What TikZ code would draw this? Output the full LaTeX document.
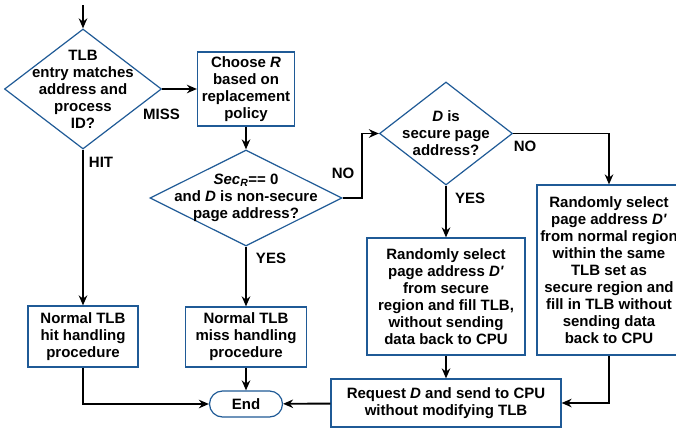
\documentclass[tikz,border=0pt]{standalone}
\usepackage{fontspec}
\setmainfont{Liberation Sans}
\usepackage{tikz}
\usetikzlibrary{
	shapes.geometric,
	arrows.meta
}
\definecolor{edgeblue}{RGB}{31,90,150}

\begin{document}
\begin{tikzpicture}[
    x=1pt, y=1pt,
    every node/.style={font=\fontsize{15}{17}\selectfont\bfseries},
    box/.style={rectangle, draw=edgeblue, line width=1.2pt, fill=white, align=center, inner sep=0pt},
    decision/.style={diamond, draw=edgeblue, line width=1.2pt, inner sep=0pt},
    qtext/.style={align=center, inner sep=0pt},
    tag/.style={inner sep=0pt},
    arrow/.style={line width=1.9pt,-{Stealth[length=10pt,width=8.5pt]}}
]
\useasboundingbox (0,0) rectangle (676,-431);

% Nodes
\coordinate (start) at (83,-5);

\node[decision, minimum width=157pt, minimum height=120pt,
  label={[qtext]center:{TLB\\entry matches\\address and\\process\\ID?}}] (match) at (83,-89) {};

\node[box, minimum width=97pt, minimum height=74pt] (choose) at (246,-89) {Choose \textit{R}\\based on\\replacement\\policy};

\node[decision, minimum width=192pt, minimum height=96pt,
  label={[qtext]center:{\textit{Sec}\textsubscript{\textit{R}}== 0\\and \textit{D} is non-secure\\page address?}}] (secr) at (246,-198) {};

\node[decision, minimum width=133pt, minimum height=103pt,
  label={[qtext]center:{\textit{D} is\\secure page\\address?}}] (secure) at (446,-133.5) {};

\node[box, minimum width=110pt, minimum height=61pt] (hit) at (83,-336.5) {Normal TLB\\hit handling\\procedure};

\node[box, minimum width=121pt, minimum height=60pt] (miss) at (246,-337) {Normal TLB\\miss handling\\procedure};

\node[box, minimum width=158pt, minimum height=117pt] (pick) at (446,-296.5) {Randomly select\\page address \textit{D\textquotesingle}\\from secure\\region and fill TLB,\\without sending\\data back to CPU};

\node[box, minimum width=144pt, minimum height=170pt] (picknormal) at (609,-270) {Randomly select\\page address \textit{D\textquotesingle}\\from normal region\\within the same\\TLB set as\\secure region and\\fill in TLB without\\sending data\\back to CPU};

\node[box, minimum width=230pt, minimum height=48pt] (request) at (446,-403) {Request \textit{D} and send to CPU\\without modifying TLB};

\node[box, rounded corners=13pt, minimum width=73pt, minimum height=26pt] (end) at (246,-404) {End};

% Branch labels
\node[tag] (misstag) at (161.5,-114) {MISS};
\node[tag] (hittag) at (101,-162) {HIT};
\node[tag] (yestag) at (271,-258) {YES};
\node[tag] (notag) at (343,-173) {NO};
\node[tag] (yessec) at (470,-198) {YES};
\node[tag] (nosec) at (525,-146) {NO};

% Connectors
\draw[arrow] (start) -- (match);
\draw[arrow] (match.east) -- (choose.west);
\draw[arrow] (choose) -- (secr);
\draw[arrow] (match) -- (hit);
\draw[arrow] (secr) -- (miss);
\draw[arrow] (secr.east) -- ++(19,0) |- (secure.west);
\draw[arrow] (secure.east) -| (picknormal.north);
\draw[arrow] (secure) -- (pick);
\draw[arrow] (pick) -- (request);
\draw[arrow] (picknormal.south) |- (request.east);
\draw[arrow] (request) -- (end);
\draw[arrow] (miss) -- (end);
\draw[arrow] (hit.south) |- (end.west);

\end{tikzpicture}
\end{document}
